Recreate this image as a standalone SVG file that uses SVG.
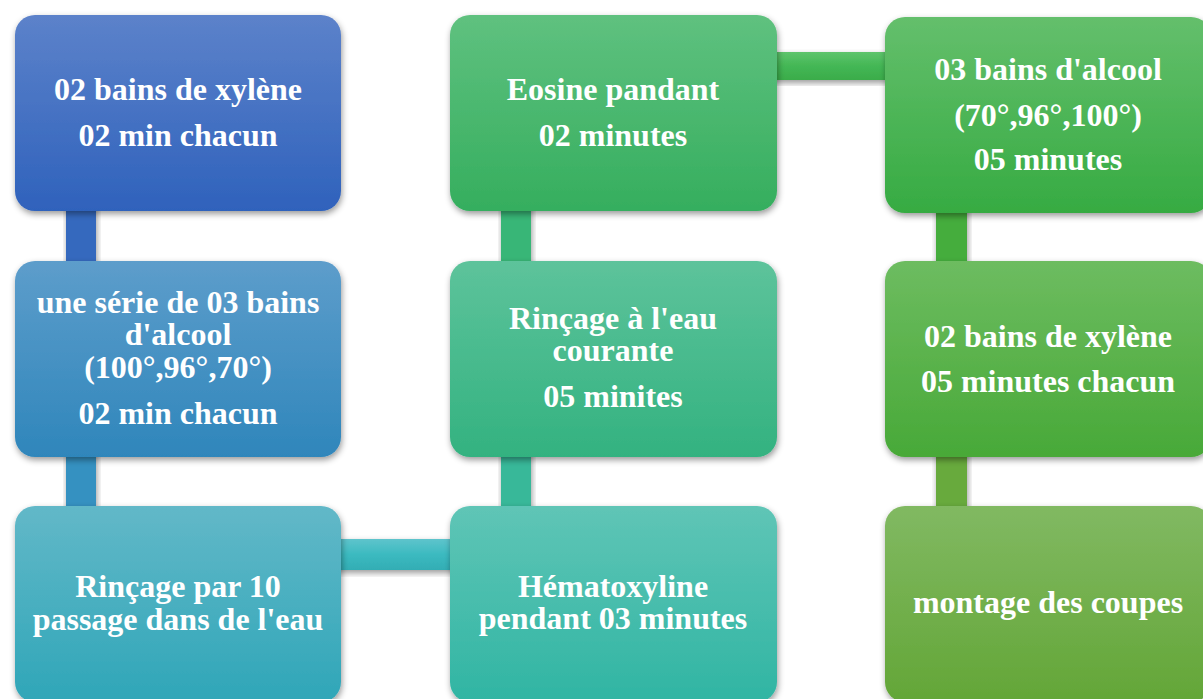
<svg xmlns="http://www.w3.org/2000/svg" width="1203" height="699" viewBox="0 0 1203 699">
<defs>
<filter id="sh" x="-10%" y="-10%" width="125%" height="130%">
<feDropShadow dx="1" dy="3" stdDeviation="3" flood-color="#000" flood-opacity="0.4"/>
</filter>
<linearGradient id="g1" x1="0" y1="0" x2="0" y2="1"><stop offset="0" stop-color="#5c82ca"/><stop offset="1" stop-color="#2f62bc"/></linearGradient>
<linearGradient id="g2" x1="0" y1="0" x2="0" y2="1"><stop offset="0" stop-color="#5d9dcb"/><stop offset="1" stop-color="#2f86bb"/></linearGradient>
<linearGradient id="g3" x1="0" y1="0" x2="0" y2="1"><stop offset="0" stop-color="#62b8c8"/><stop offset="1" stop-color="#2fa6b8"/></linearGradient>
<linearGradient id="g4" x1="0" y1="0" x2="0" y2="1"><stop offset="0" stop-color="#5fc5b6"/><stop offset="1" stop-color="#30b5a3"/></linearGradient>
<linearGradient id="g5" x1="0" y1="0" x2="0" y2="1"><stop offset="0" stop-color="#5dc39b"/><stop offset="1" stop-color="#33b280"/></linearGradient>
<linearGradient id="g6" x1="0" y1="0" x2="0" y2="1"><stop offset="0" stop-color="#5fc17f"/><stop offset="1" stop-color="#35ae5e"/></linearGradient>
<linearGradient id="g7" x1="0" y1="0" x2="0" y2="1"><stop offset="0" stop-color="#64bf6c"/><stop offset="1" stop-color="#36ab42"/></linearGradient>
<linearGradient id="g8" x1="0" y1="0" x2="0" y2="1"><stop offset="0" stop-color="#6dbc60"/><stop offset="1" stop-color="#48a938"/></linearGradient>
<linearGradient id="g9" x1="0" y1="0" x2="0" y2="1"><stop offset="0" stop-color="#81b962"/><stop offset="1" stop-color="#63a637"/></linearGradient>
<linearGradient id="ch1" x1="0" y1="0" x2="0" y2="1"><stop offset="0" stop-color="#5ec4cc"/><stop offset="0.5" stop-color="#3bbac0"/><stop offset="1" stop-color="#33adb4"/></linearGradient>
<linearGradient id="ch2" x1="0" y1="0" x2="0" y2="1"><stop offset="0" stop-color="#5ec46c"/><stop offset="0.5" stop-color="#44b755"/><stop offset="1" stop-color="#3aac4a"/></linearGradient>
</defs>
<style>
.box{filter:url(#sh);}
.t{font-family:"Liberation Serif","Times New Roman",serif;font-weight:bold;font-size:32px;fill:#fff;text-anchor:middle;}
.c{filter:url(#sh);}
</style>
<rect width="1203" height="699" fill="#fff"/>
<g id="connectors">
<rect class="c" x="66" y="200" width="30" height="70" fill="#3469be"/>
<rect class="c" x="66" y="445" width="30" height="70" fill="#3591c1"/>
<rect class="c" x="330" y="539" width="130" height="31" fill="url(#ch1)"/>
<rect class="c" x="501" y="445" width="30" height="70" fill="#38b899"/>
<rect class="c" x="501" y="200" width="30" height="70" fill="#38b677"/>
<rect class="c" x="765" y="52" width="130" height="28" fill="url(#ch2)"/>
<rect class="c" x="936" y="200" width="31" height="70" fill="#44ad3c"/>
<rect class="c" x="936" y="445" width="31" height="70" fill="#67aa3d"/>
</g>
<g id="n1"><rect class="box" x="15" y="15" width="326" height="196" rx="20" fill="url(#g1)"/>
<text class="t" x="178" y="100">02 bains de xylène</text><text class="t" x="178" y="146">02 min chacun</text></g>
<g id="n2"><rect class="box" x="15" y="261" width="326" height="196" rx="20" fill="url(#g2)"/>
<text class="t" x="178" y="313">une série de 03 bains</text><text class="t" x="178" y="345">d'alcool</text><text class="t" x="178" y="378">(100°,96°,70°)</text><text class="t" x="178" y="424">02 min chacun</text></g>
<g id="n3"><rect class="box" x="15" y="506" width="326" height="196" rx="20" fill="url(#g3)"/>
<text class="t" x="178" y="597">Rinçage par 10</text><text class="t" x="178" y="630">passage dans de l'eau</text></g>
<g id="n4"><rect class="box" x="450" y="506" width="327" height="196" rx="20" fill="url(#g4)"/>
<text class="t" x="613" y="597">Hématoxyline</text><text class="t" x="613" y="629">pendant 03 minutes</text></g>
<g id="n5"><rect class="box" x="450" y="261" width="327" height="196" rx="20" fill="url(#g5)"/>
<text class="t" x="613" y="329">Rinçage à l'eau</text><text class="t" x="613" y="361">courante</text><text class="t" x="613" y="407">05 minites</text></g>
<g id="n6"><rect class="box" x="450" y="15" width="327" height="196" rx="20" fill="url(#g6)"/>
<text class="t" x="613" y="100">Eosine pandant</text><text class="t" x="613" y="146">02 minutes</text></g>
<g id="n7"><rect class="box" x="885" y="17" width="326" height="196" rx="20" fill="url(#g7)"/>
<text class="t" x="1048" y="80">03 bains d'alcool</text><text class="t" x="1048" y="126">(70°,96°,100°)</text><text class="t" x="1048" y="170">05 minutes</text></g>
<g id="n8"><rect class="box" x="885" y="261" width="326" height="196" rx="20" fill="url(#g8)"/>
<text class="t" x="1048" y="347">02 bains de xylène</text><text class="t" x="1048" y="392">05 minutes chacun</text></g>
<g id="n9"><rect class="box" x="885" y="506" width="326" height="196" rx="20" fill="url(#g9)"/>
<text class="t" x="1048" y="613">montage des coupes</text></g>
</svg>
